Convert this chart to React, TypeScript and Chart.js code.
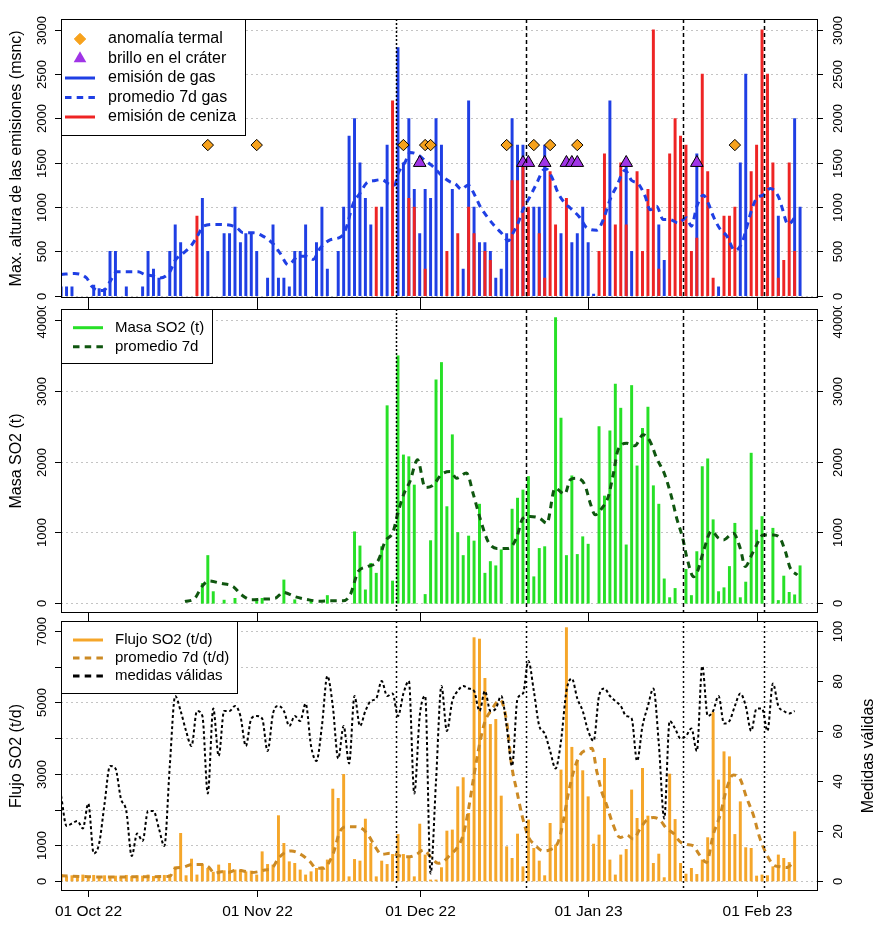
import React, { useEffect, useRef } from "react";
import { Chart, registerables } from "chart.js";

Chart.register(...registerables);

const FONT = '"Liberation Sans", Arial, Helvetica, sans-serif';

// ---------- shared x axis (days since 01 Oct 2022) ----------
const X_MIN = -5.02;
const X_MAX = 134.3;
const monthDays = [0, 31, 61, 92, 123];
const monthLabels = ["01 Oct 22", "01 Nov 22", "01 Dec 22", "01 Jan 23", "01 Feb 23"];
const eventDays = [56.6, 80.5, 109.5, 124.4];

// ---------- panel 1: emission heights ----------
const gasDays = [-5, -4, -3, 1, 2, 3, 4, 5, 7, 10, 11, 12, 13, 15, 16, 17, 21, 22, 25, 26, 27, 28, 29, 30, 31, 33, 34, 35, 36, 37, 38, 39, 40, 42, 43, 44, 46, 47, 48, 49, 50, 51, 52, 54, 55, 57, 58, 59, 60, 61, 62, 63, 64, 65, 67, 69, 70, 71, 72, 73, 74, 75, 76, 77, 78, 79, 80, 82, 83, 84, 87, 89, 90, 91, 92, 93, 96, 99, 100, 105, 106, 112, 116, 120, 121, 127, 130, 131];
const gasHeights = [100, 100, 100, 120, 80, 80, 500, 500, 100, 100, 500, 300, 200, 500, 800, 600, 1100, 500, 700, 700, 1000, 600, 700, 700, 500, 200, 800, 200, 200, 100, 500, 500, 800, 600, 1000, 300, 500, 1000, 1800, 2000, 1500, 1100, 800, 1000, 1700, 2800, 1500, 2000, 1200, 700, 1200, 1100, 2000, 1700, 1200, 300, 2200, 1000, 600, 600, 500, 200, 300, 700, 2000, 1700, 1700, 1000, 1000, 1700, 700, 600, 700, 1000, 600, 20, 2200, 1450, 500, 800, 400, 1600, 100, 1500, 2500, 900, 2000, 1000];
const ashDays = [20, 53, 56, 59, 60, 62, 66, 68, 70, 71, 73, 74, 78, 79, 80, 81, 83, 84, 85, 86, 88, 94, 95, 97, 98, 99, 101, 102, 103, 104, 105, 107, 108, 109, 110, 111, 112, 113, 114, 115, 117, 118, 119, 122, 123, 124, 125, 126, 127, 128, 129, 130];
const ashHeights = [900, 1000, 2200, 1100, 1000, 300, 500, 700, 1000, 700, 500, 400, 1300, 1300, 1500, 1000, 700, 200, 1400, 800, 1100, 500, 1600, 800, 1500, 800, 1400, 500, 1200, 3000, 300, 1600, 2000, 1800, 1700, 500, 650, 2500, 1400, 200, 900, 900, 1000, 1400, 1700, 3000, 2500, 1500, 200, 400, 1500, 500];
const gasAvgDays = [-5, -2.5, -0.3, 0.6, 1.8, 2.8, 4, 5.2, 7, 9.2, 10.4, 11.7, 13.2, 15, 16, 17.5, 19, 20.1, 21.2, 23.3, 25.5, 27.3, 28.5, 30.4, 32.2, 34.1, 35.3, 36.8, 38.7, 40.2, 41.4, 42.6, 44.5, 46.6, 47.4, 48.8, 50, 51.2, 52.8, 54, 55.5, 56.4, 57, 58.3, 59.2, 60.4, 62, 63.2, 64.1, 65.3, 66.6, 67.5, 68.7, 69.9, 71.2, 72.1, 73.3, 74.8, 76, 77.3, 78.2, 79.1, 80, 81.3, 82.5, 83.7, 84.3, 85.3, 86.5, 87.7, 88.7, 90.5, 91.7, 93.6, 94.8, 96, 97.2, 98.8, 100, 101.2, 102.5, 103.4, 104.6, 105.8, 107, 108.6, 110.1, 111, 112, 113.2, 114.1, 115, 116.3, 117.5, 119, 120.3, 120.9, 122.1, 123, 124.2, 125.5, 127, 127.6, 128.8, 130.4];
const gasAvgValues = [240, 250, 200, 110, 60, 60, 160, 270, 270, 270, 240, 225, 200, 270, 400, 480, 570, 675, 785, 805, 800, 770, 710, 710, 670, 580, 480, 350, 445, 445, 410, 530, 630, 670, 755, 1045, 1155, 1270, 1300, 1310, 1255, 1250, 1375, 1505, 1615, 1600, 1525, 1470, 1415, 1340, 1285, 1265, 1200, 1250, 1125, 1010, 900, 785, 710, 620, 710, 820, 970, 1120, 1265, 1415, 1430, 1340, 1155, 1045, 990, 880, 770, 740, 860, 1080, 1230, 1415, 1300, 1265, 1120, 970, 1010, 860, 860, 820, 880, 785, 1010, 1135, 1045, 900, 750, 675, 510, 595, 710, 970, 1100, 1135, 1210, 1120, 1010, 805, 915];
const thermalDays = [22, 31, 58, 62, 63, 77, 82, 85, 90, 119];
const thermalLevel = 1700;
const glowDays = [61, 80, 81, 84, 88, 89, 90, 99, 112];
const glowLevel = 1500;
const heightTicks = [0, 500, 1000, 1500, 2000, 2500, 3000];
const heightTickLabels = ["0", "500", "1000", "1500", "2000", "2500", "3000"];

// ---------- panel 2: SO2 mass ----------
const massDays = [21, 22, 23, 25, 27, 31, 32, 36, 38, 41, 44, 49, 50, 51, 52, 53, 54, 55, 56, 57, 58, 59, 60, 62, 63, 64, 65, 66, 67, 68, 69, 70, 71, 72, 73, 74, 75, 76, 78, 79, 80, 81, 82, 83, 84, 86, 87, 88, 89, 90, 91, 92, 94, 95, 96, 97, 98, 99, 100, 101, 102, 103, 104, 105, 106, 107, 108, 110, 111, 112, 113, 114, 115, 116, 117, 118, 119, 120, 121, 122, 123, 124, 126, 127, 128, 129, 130, 131];
const massValues = [280, 675, 165, 45, 70, 55, 70, 330, 50, 45, 110, 1010, 810, 190, 565, 425, 800, 2790, 315, 3495, 2095, 2070, 1670, 125, 885, 3155, 3400, 1365, 2380, 1000, 675, 950, 880, 1400, 425, 590, 530, 755, 1330, 1485, 1600, 1790, 375, 775, 800, 4035, 2615, 675, 1800, 690, 940, 835, 2495, 1515, 2435, 3095, 2755, 825, 3075, 1940, 2470, 2770, 1660, 1400, 345, 80, 210, 480, 110, 730, 1930, 2040, 1180, 165, 220, 520, 1130, 80, 300, 2120, 1035, 1225, 1060, 40, 385, 155, 120, 530];
const massAvgDays = [17.8, 19.6, 20.9, 22.1, 24.5, 26.7, 28.2, 30, 32.2, 34.4, 35.9, 38, 40.5, 42.6, 44.5, 46.9, 48.2, 49.7, 51.5, 53.4, 54.6, 56.1, 56.9, 58, 59.2, 60.6, 62, 63.5, 65, 66.6, 67.8, 69.6, 70.9, 72.1, 73.6, 75.2, 77.3, 78.8, 80, 81.3, 83.1, 84.4, 85.9, 87.7, 88.7, 89.9, 91.4, 92.3, 93.3, 94.5, 95.7, 96.6, 97.5, 99.1, 100.6, 102.1, 103.4, 104.6, 106.1, 107.4, 108.3, 109.4, 110.2, 111.4, 112.1, 113.2, 114.7, 116, 116.9, 118.7, 120, 120.9, 122.1, 123, 124.2, 126.1, 127.3, 128.3, 129.2, 130.5];
const massAvgValues = [25, 70, 235, 315, 280, 235, 120, 50, 60, 70, 155, 95, 50, 30, 35, 35, 118, 450, 520, 610, 870, 1010, 1250, 1530, 1720, 2025, 1635, 1670, 1820, 1860, 1765, 1840, 1530, 1200, 870, 775, 775, 920, 1200, 1225, 1200, 1130, 1625, 1540, 1745, 1765, 1670, 1435, 1250, 1340, 1505, 1815, 2165, 2260, 2225, 2380, 2285, 2050, 1815, 1485, 1200, 920, 635, 375, 445, 730, 1020, 920, 895, 990, 775, 520, 685, 825, 965, 965, 920, 730, 495, 400];
const massTicks = [0, 1000, 2000, 3000, 4000];
const massTickLabels = ["0", "1000", "2000", "3000", "40000"];

// ---------- panel 3: SO2 flux and valid measurements (days -5 .. 130) ----------
const fluxFirstDay = -5;
const fluxValues = [180, 120, 150, 100, 170, 130, 160, 110, 150, 120, 140, 100, 160, 130, 150, 140, 170, 130, 150, 160, 180,
  400, 1335, 150, 615, 170, 465, 355, 250, 450, 290,
  495, 310, 310, 260, 280, 170, 820, 465, 450, 1830,
  1055, 540, 495, 310, 170, 260,
  355, 400, 590, 2575, 2315, 2985, 120, 605, 560, 1735,
  1055, 120, 560, 465, 745, 1305, 745, 680, 120, 1595,
  730, 30, 30, 375, 1400, 1430, 2640, 2895, 1895, 6815,
  6775, 5675, 4385, 4525, 2380, 960, 635, 1315, 400, 1710,
  915, 560, 150, 1615, 1010, 3110, 7095,
  3745, 3370, 3090, 2360, 1035, 1290, 3435, 590, 170, 730,
  885, 2550, 1755, 3155, 1820, 495, 755, 95, 2995, 1725,
  495, 195, 355, 185, 590, 1215, 4720, 2830, 3620, 3480,
  1305, 2220, 935, 915, 140, 170, 150, 400, 730, 635,
  520, 1380];
const fluxAvgDays = [-5, 0, 5, 10, 15, 16, 17.2, 19.3, 20.9, 22.1, 23.3, 24.5, 25.8, 27.3, 28.5, 30, 31.3, 32.5, 33.8, 35, 36.2, 37.4, 39.3, 40.8, 42, 43.3, 44.2, 45.1, 46.3, 47.6, 48.8, 50.3, 51.5, 52.8, 54, 55.5, 56.8, 58, 59.2, 60.4, 61.7, 63.2, 64.4, 65.3, 66.6, 67.8, 69, 69.9, 70.9, 72.1, 73, 74.2, 75.8, 77, 77.9, 78.9, 79.8, 81, 82.2, 83.7, 84.9, 86.5, 87.4, 88.3, 89.3, 90.5, 91.7, 92.7, 93.6, 94.5, 95.4, 96.6, 97.9, 99.1, 100.3, 101.6, 102.8, 104, 105.2, 106.4, 107.7, 108.9, 110.1, 111.4, 112.3, 113.8, 115, 116.3, 117.5, 118.7, 119.9, 121.2, 122.4, 123.6, 124.9, 126.1, 127.3, 128.5, 129.8];
const fluxAvgValues = [150, 120, 110, 120, 130, 355, 380, 465, 465, 400, 215, 260, 245, 310, 280, 240, 260, 310, 355, 635, 800, 840, 730, 540, 355, 355, 495, 775, 1380, 1520, 1520, 1475, 1290, 960, 745, 775, 730, 680, 680, 745, 870, 635, 495, 540, 730, 915, 1290, 1940, 2875, 3900, 4460, 4790, 5070, 4460, 3250, 2500, 1850, 1240, 1010, 840, 870, 1100, 1660, 2410, 3060, 3530, 3670, 3715, 3060, 2500, 2130, 1570, 1215, 1290, 1175, 1475, 1710, 1775, 1710, 1475, 1335, 1100, 1025, 980, 775, 520, 1290, 1850, 2595, 2970, 2875, 2315, 1850, 1200, 730, 450, 400, 375, 520];
const validCounts = [34, 22, 23, 24, 21, 31, 11, 15, 31, 46,
  45, 33, 28, 10, 19, 16, 28, 28, 21, 14,
  46, 74, 68, 60, 54, 68, 66, 35, 69, 50,
  68, 68, 70, 66, 54, 65, 66, 65, 52, 67,
  70, 68, 62, 66, 64, 71, 54, 48, 62, 82,
  70, 49, 62, 47, 74, 62, 68, 72, 73, 80,
  74, 75, 66, 75, 80, 35, 66, 74, 3, 40,
  78, 60, 72, 76, 78, 77, 76, 68, 76, 68,
  69, 74, 62, 46, 73, 75, 88, 76, 62, 59,
  52, 45, 56, 76, 81, 73, 68, 60, 56, 74,
  77, 74, 72, 70, 66, 65, 48, 62, 70, 77,
  55, 25, 64, 61, 57, 58, 61, 52, 86, 66,
  68, 74, 63, 64, 70, 75, 70, 60, 69, 69,
  60, 79, 70, 68, 67, 68];
const fluxTicks = [0, 1000, 2000, 3000, 4000, 5000, 6000, 7000];
const fluxTickLabels = ["0", "1000", "", "3000", "", "5000", "", "7000"];
const validTicks = [0, 20, 40, 60, 80, 100];
const validTickLabels = ["0", "20", "40", "60", "80", "100"];

// ---------- colours ----------
const GAS_BLUE = "#1f3fe4";
const ASH_RED = "#ee2424";
const DIAMOND = "#f7a21c";
const PURPLE = "#a034e6";
const GREEN = "#27e027";
const DARK_GREEN = "#0f560f";
const ORANGE = "#f5a62a";
const DARK_ORANGE = "#cc8a24";
const AVG_DASH = [6.5, 5.2];

const pts = (xs: number[], ys: number[]) => xs.map((x, i) => ({ x, y: ys[i] }));
const seq = (first: number, ys: number[]) => ys.map((y, i) => ({ x: first + i, y }));
const flat = (xs: number[], level: number) => xs.map((x) => ({ x, y: level }));

type LegendItem = { kind: "diamond" | "triangle" | "line"; color: string; dash?: number[]; text: string };
interface Deco {
  leftTicks: number[];
  leftLabels: string[];
  rightScale: string;
  rightTicks: number[];
  rightLabels: string[];
  grid: number[];
  leftTitle: string;
  rightTitle?: string;
  legend: LegendItem[];
  legendFont: number;
  legendW: number;
  legendH: number;
  row0: number;
  rowGap: number;
  symX: number;
  textX: number;
  topTicks: boolean;
  xLabels: boolean;
  eventDash: number[][];
}

function vText(ctx: CanvasRenderingContext2D, text: string, x: number, y: number) {
  ctx.save();
  ctx.translate(x, y);
  ctx.rotate(-Math.PI / 2);
  ctx.textAlign = "center";
  ctx.textBaseline = "middle";
  ctx.fillText(text, 0, 0);
  ctx.restore();
}

function seg(ctx: CanvasRenderingContext2D, x1: number, y1: number, x2: number, y2: number) {
  ctx.beginPath();
  ctx.moveTo(x1, y1);
  ctx.lineTo(x2, y2);
  ctx.stroke();
}

function decoPlugin(cfg: Deco) {
  return {
    id: "deco",
    beforeDatasetsDraw(chart: any) {
      const { ctx, chartArea: a } = chart;
      const ys = chart.scales.y;
      ctx.save();
      ctx.strokeStyle = "#c4c4c4";
      ctx.lineWidth = 1;
      ctx.setLineDash([2, 3]);
      for (const v of cfg.grid) {
        const py = Math.round(ys.getPixelForValue(v)) + 0.5;
        seg(ctx, a.left, py, a.right, py);
      }
      ctx.restore();
    },
    afterDatasetsDraw(chart: any) {
      const { ctx, chartArea: a } = chart;
      const xs = chart.scales.x;
      const ys = chart.scales.y;
      const rs = chart.scales[cfg.rightScale];
      ctx.save();
      // event lines
      ctx.strokeStyle = "#000";
      ctx.lineWidth = 1.5;
      eventDays.forEach((d, i) => {
        const px = Math.round(xs.getPixelForValue(d)) + 0.5;
        ctx.setLineDash(cfg.eventDash[i]);
        seg(ctx, px, a.top, px, a.bottom);
      });
      ctx.setLineDash([]);
      // frame
      ctx.lineWidth = 1;
      ctx.strokeStyle = "#000";
      ctx.strokeRect(Math.round(a.left) + 0.5, Math.round(a.top) + 0.5, Math.round(a.right - a.left) - 1, Math.round(a.bottom - a.top) - 1);
      ctx.fillStyle = "#000";
      ctx.font = `13px ${FONT}`;
      // left axis
      cfg.leftTicks.forEach((v, i) => {
        const py = Math.round(ys.getPixelForValue(v)) + 0.5;
        seg(ctx, a.left - 6, py, a.left, py);
        if (cfg.leftLabels[i]) vText(ctx, cfg.leftLabels[i], a.left - 19, py);
      });
      // right axis
      cfg.rightTicks.forEach((v, i) => {
        const py = Math.round(rs.getPixelForValue(v)) + 0.5;
        seg(ctx, a.right - 1, py, a.right + 5, py);
        if (cfg.rightLabels[i]) vText(ctx, cfg.rightLabels[i], a.right + 20, py);
      });
      // x ticks
      ctx.font = `15.5px ${FONT}`;
      monthDays.forEach((d, i) => {
        const px = Math.round(xs.getPixelForValue(d)) + 0.5;
        if (cfg.xLabels) {
          seg(ctx, px, a.bottom, px, a.bottom + 6);
          ctx.textAlign = "center";
          ctx.textBaseline = "middle";
          ctx.fillText(monthLabels[i], px, a.bottom + 21);
        } else {
          seg(ctx, px, a.bottom, px, chart.height);
        }
        if (cfg.topTicks) seg(ctx, px, 0, px, a.top);
      });
      // titles
      ctx.font = `16px ${FONT}`;
      const mid = (a.top + a.bottom) / 2;
      vText(ctx, cfg.leftTitle, 17, mid);
      if (cfg.rightTitle) vText(ctx, cfg.rightTitle, 869, mid);
      // legend
      const L = Math.round(a.left);
      const T = Math.round(a.top);
      ctx.fillStyle = "#fff";
      ctx.fillRect(L, T, cfg.legendW, cfg.legendH);
      ctx.strokeStyle = "#000";
      ctx.lineWidth = 1;
      ctx.strokeRect(L + 0.5, T + 0.5, cfg.legendW, cfg.legendH);
      cfg.legend.forEach((it, i) => {
        const cy = T + cfg.row0 + i * cfg.rowGap;
        const sx = L + cfg.symX;
        if (it.kind === "line") {
          ctx.strokeStyle = it.color;
          ctx.lineWidth = 3;
          ctx.setLineDash(it.dash || []);
          seg(ctx, sx - 15, cy, sx + 15, cy);
          ctx.setLineDash([]);
        } else if (it.kind === "diamond") {
          const r = 5.7;
          ctx.beginPath();
          ctx.moveTo(sx, cy - r);
          ctx.lineTo(sx + r, cy);
          ctx.lineTo(sx, cy + r);
          ctx.lineTo(sx - r, cy);
          ctx.closePath();
          ctx.fillStyle = it.color;
          ctx.fill();
          ctx.strokeStyle = it.color;
          ctx.lineWidth = 1;
          ctx.stroke();
        } else {
          const r = 7.3;
          ctx.beginPath();
          ctx.moveTo(sx, cy - r);
          ctx.lineTo(sx + r * 0.866, cy + r / 2);
          ctx.lineTo(sx - r * 0.866, cy + r / 2);
          ctx.closePath();
          ctx.fillStyle = it.color;
          ctx.fill();
        }
        ctx.fillStyle = "#000";
        ctx.textAlign = "left";
        ctx.textBaseline = "middle";
        ctx.font = `${cfg.legendFont}px ${FONT}`;
        ctx.fillText(it.text, L + cfg.textX, cy);
      });
      ctx.restore();
    },
  };
}

const baseOptions = (padTop: number, padBottom: number, scales: any) => ({
  responsive: false,
  animation: false as const,
  events: [] as any[],
  layout: { padding: { left: 61, right: 66, top: padTop, bottom: padBottom } },
  plugins: { legend: { display: false }, tooltip: { enabled: false } },
  scales: {
    x: { type: "linear", min: X_MIN, max: X_MAX, display: false, offset: false },
    ...scales,
  },
});

const barDs = (data: any[], color: string, order: number) => ({
  type: "bar" as const,
  data,
  backgroundColor: color,
  borderWidth: 0,
  barThickness: 2.3,
  grouped: false,
  order,
});

const lineDs = (data: any[], color: string, width: number, dash: number[], order: number, yAxisID = "y") => ({
  type: "line" as const,
  data,
  borderColor: color,
  borderWidth: width,
  borderDash: dash,
  pointRadius: 0,
  fill: false,
  cubicInterpolationMode: "monotone" as const,
  order,
  yAxisID,
});

export default function App() {
  const r1 = useRef<HTMLCanvasElement>(null);
  const r2 = useRef<HTMLCanvasElement>(null);
  const r3 = useRef<HTMLCanvasElement>(null);

  useEffect(() => {
    const charts: Chart[] = [];

    charts.push(
      new Chart(r1.current as HTMLCanvasElement, {
        type: "bar",
        data: {
          datasets: [
            {
              type: "line",
              data: flat(thermalDays, thermalLevel),
              showLine: false,
              pointStyle: "rectRot",
              pointRadius: 5.7,
              pointBackgroundColor: DIAMOND,
              pointBorderColor: "#000",
              pointBorderWidth: 1,
              order: 0,
            },
            {
              type: "line",
              data: flat(glowDays, glowLevel),
              showLine: false,
              pointStyle: "triangle",
              pointRadius: 7.3,
              pointBackgroundColor: PURPLE,
              pointBorderColor: "#000",
              pointBorderWidth: 1,
              order: 0,
            },
            lineDs(pts(gasAvgDays, gasAvgValues), GAS_BLUE, 3, AVG_DASH, 1),
            barDs(pts(ashDays, ashHeights), ASH_RED, 2),
            barDs(pts(gasDays, gasHeights), GAS_BLUE, 3),
          ] as any,
        },
        options: baseOptions(19, 3, {
          y: { type: "linear", min: -22, max: 3122, display: false },
        }) as any,
        plugins: [
          decoPlugin({
            leftTicks: heightTicks,
            leftLabels: heightTickLabels,
            rightScale: "y",
            rightTicks: heightTicks,
            rightLabels: heightTickLabels,
            grid: heightTicks,
            leftTitle: "Max. altura de las emisiones (msnc)",
            legend: [
              { kind: "diamond", color: DIAMOND, text: "anomalía termal" },
              { kind: "triangle", color: PURPLE, text: "brillo en el cráter" },
              { kind: "line", color: GAS_BLUE, text: "emisión de gas" },
              { kind: "line", color: GAS_BLUE, dash: AVG_DASH, text: "promedio 7d gas" },
              { kind: "line", color: ASH_RED, text: "emisión de ceniza" },
            ],
            legendFont: 16,
            legendW: 184,
            legendH: 116,
            row0: 20,
            rowGap: 19.5,
            symX: 19,
            textX: 47,
            topTicks: false,
            xLabels: false,
            eventDash: [[2, 2], [4, 3], [4, 3], [4, 3]],
          }),
        ],
      })
    );

    charts.push(
      new Chart(r2.current as HTMLCanvasElement, {
        type: "bar",
        data: {
          datasets: [
            lineDs(pts(massAvgDays, massAvgValues), DARK_GREEN, 3, AVG_DASH, 1),
            barDs(pts(massDays, massValues), GREEN, 2),
          ] as any,
        },
        options: baseOptions(3, 4, {
          y: { type: "linear", min: -137, max: 4155, display: false },
        }) as any,
        plugins: [
          decoPlugin({
            leftTicks: massTicks,
            leftLabels: massTickLabels,
            rightScale: "y",
            rightTicks: massTicks,
            rightLabels: massTickLabels,
            grid: massTicks,
            leftTitle: "Masa SO2 (t)",
            legend: [
              { kind: "line", color: GREEN, text: "Masa SO2 (t)" },
              { kind: "line", color: DARK_GREEN, dash: AVG_DASH, text: "promedio 7d" },
            ],
            legendFont: 15,
            legendW: 151,
            legendH: 54,
            row0: 18.7,
            rowGap: 19,
            symX: 27,
            textX: 54,
            topTicks: true,
            xLabels: false,
            eventDash: [[2, 2], [4, 3], [4, 3], [4, 3]],
          }),
        ],
      })
    );

    charts.push(
      new Chart(r3.current as HTMLCanvasElement, {
        type: "bar",
        data: {
          datasets: [
            lineDs(seq(fluxFirstDay, validCounts), "#000", 2, [3, 2.6], 0, "y2"),
            lineDs(pts(fluxAvgDays, fluxAvgValues), DARK_ORANGE, 3, AVG_DASH, 1),
            barDs(seq(fluxFirstDay, fluxValues), ORANGE, 2),
          ] as any,
        },
        options: baseOptions(4, 36, {
          y: { type: "linear", min: -280, max: 7280, display: false },
          y2: { type: "linear", position: "right", min: -4, max: 104, display: false },
        }) as any,
        plugins: [
          decoPlugin({
            leftTicks: fluxTicks,
            leftLabels: fluxTickLabels,
            rightScale: "y2",
            rightTicks: validTicks,
            rightLabels: validTickLabels,
            grid: fluxTicks,
            leftTitle: "Flujo SO2 (t/d)",
            rightTitle: "Medidas válidas",
            legend: [
              { kind: "line", color: ORANGE, text: "Flujo SO2 (t/d)" },
              { kind: "line", color: DARK_ORANGE, dash: AVG_DASH, text: "promedio 7d (t/d)" },
              { kind: "line", color: "#000", dash: AVG_DASH, text: "medidas válidas" },
            ],
            legendFont: 15,
            legendW: 176,
            legendH: 72,
            row0: 19,
            rowGap: 18,
            symX: 27,
            textX: 54,
            topTicks: true,
            xLabels: true,
            eventDash: [[2, 3], [2, 3], [2, 3], [2, 3]],
          }),
        ],
      })
    );

    return () => charts.forEach((c) => c.destroy());
  }, []);

  const cs = (top: number, h: number): React.CSSProperties => ({
    position: "absolute",
    left: 0,
    top,
    width: 884,
    height: h,
    display: "block",
  });

  return (
    <div style={{ position: "absolute", left: 0, top: 0, width: 884, height: 927, background: "#fff" }}>
      <canvas ref={r1} width={884} height={306} style={cs(0, 306)} />
      <canvas ref={r2} width={884} height={311} style={cs(306, 311)} />
      <canvas ref={r3} width={884} height={310} style={cs(617, 310)} />
    </div>
  );
}
